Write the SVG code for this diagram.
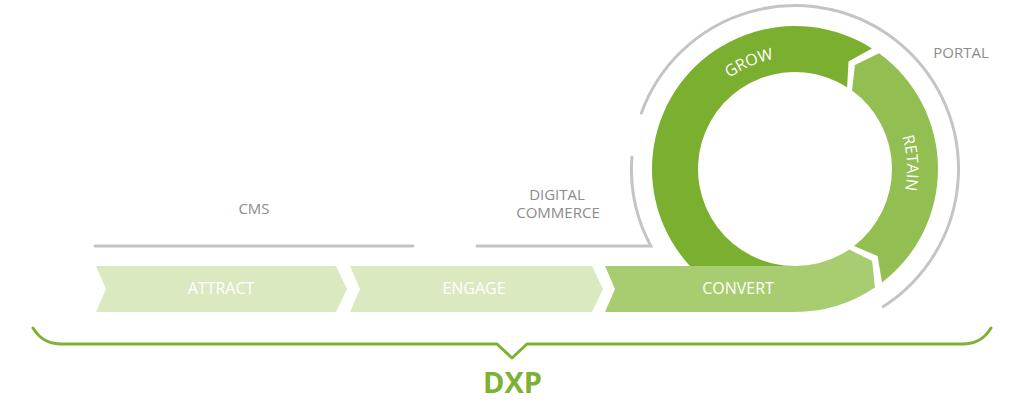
<svg xmlns="http://www.w3.org/2000/svg" width="1024" height="410" viewBox="0 0 1024 410">
<defs>
<style>
.lbl{font-family:"Open Sans","Liberation Sans",sans-serif;font-size:16px;fill:#ffffff;text-anchor:middle}
.gray{font-family:"Open Sans","Liberation Sans",sans-serif;font-size:15px;fill:#8c8c8c;text-anchor:middle}
.line{fill:none;stroke:#c4c4c4;stroke-width:3;stroke-linecap:round}
.brace{fill:none;stroke:#7cb134;stroke-width:3;stroke-linecap:round;stroke-linejoin:round}
.pale{fill:#dae9bf}
</style>
<path id="growPath" d="M690.86,127.77 A112,112 0 0 1 836.23,64.86"/>
<path id="retainPath" d="M869.94,85.77 A112,112 0 0 1 878.23,243.94"/>
</defs>
<rect width="1024" height="410" fill="#ffffff"/>
<g id="connectors">
<line class="line" x1="95" y1="246" x2="413" y2="246"/>
<path class="line" d="M477,246 L650.8,246 A163.5,163.5 0 0 1 631.9,157"/>
<path class="line" d="M641.36,113.08 A163.5,163.5 0 1 1 883.33,306.59"/>
<path class="brace" d="M33,328 C39,338 47,344 62,344 L497,344 L512,358 L527,344 L962,344 C977,344 985,338 991,328"/>
</g>
<g id="grow">
<path fill="#7aaf2f" d="M795,312 A143,143 0 1 1 871.83,48.40 L848.54,61.61 L847.12,87.19 A97,97 0 1 0 795,266 Z"/>
<text class="lbl"><textPath href="#growPath" startOffset="50%">GROW</textPath></text>
</g>
<g id="retain">
<path fill="#93be51" d="M879.05,53.31 A143,143 0 0 1 882.05,282.45 L877.60,256.04 L854.05,245.95 A97,97 0 0 0 852.02,90.53 L855,65.08 Z"/>
<text class="lbl"><textPath href="#retainPath" startOffset="50%">RETAIN</textPath></text>
</g>
<g id="attract">
<path class="pale" d="M96,266 L336,266 L347,289 L336,312 L96,312 L106,289 Z"/>
<text class="lbl" x="221" y="294">ATTRACT</text>
</g>
<g id="engage">
<path class="pale" d="M350,266 L592,266 L603,289 L592,312 L350,312 L360,289 Z"/>
<text class="lbl" x="474" y="294">ENGAGE</text>
</g>
<g id="convert">
<path fill="#a8cd70" d="M605,266 L795,266 A97,97 0 0 0 849.24,249.42 L872.13,260.92 L874.96,287.55 A143,143 0 0 1 795,312 L605,312 L615,289 Z"/>
<text class="lbl" x="738" y="294">CONVERT</text>
</g>
<g id="cms"><text class="gray" x="254" y="214">CMS</text></g>
<g id="digital-commerce">
<text class="gray" x="557" y="200">DIGITAL</text>
<text class="gray" x="558" y="218">COMMERCE</text>
</g>
<g id="portal"><text class="gray" x="961" y="58">PORTAL</text></g>
<g id="dxp"><text x="512.5" y="393" font-family="'Open Sans','Liberation Sans',sans-serif" font-size="29" font-weight="bold" fill="#7cb134" text-anchor="middle">DXP</text></g>
</svg>
